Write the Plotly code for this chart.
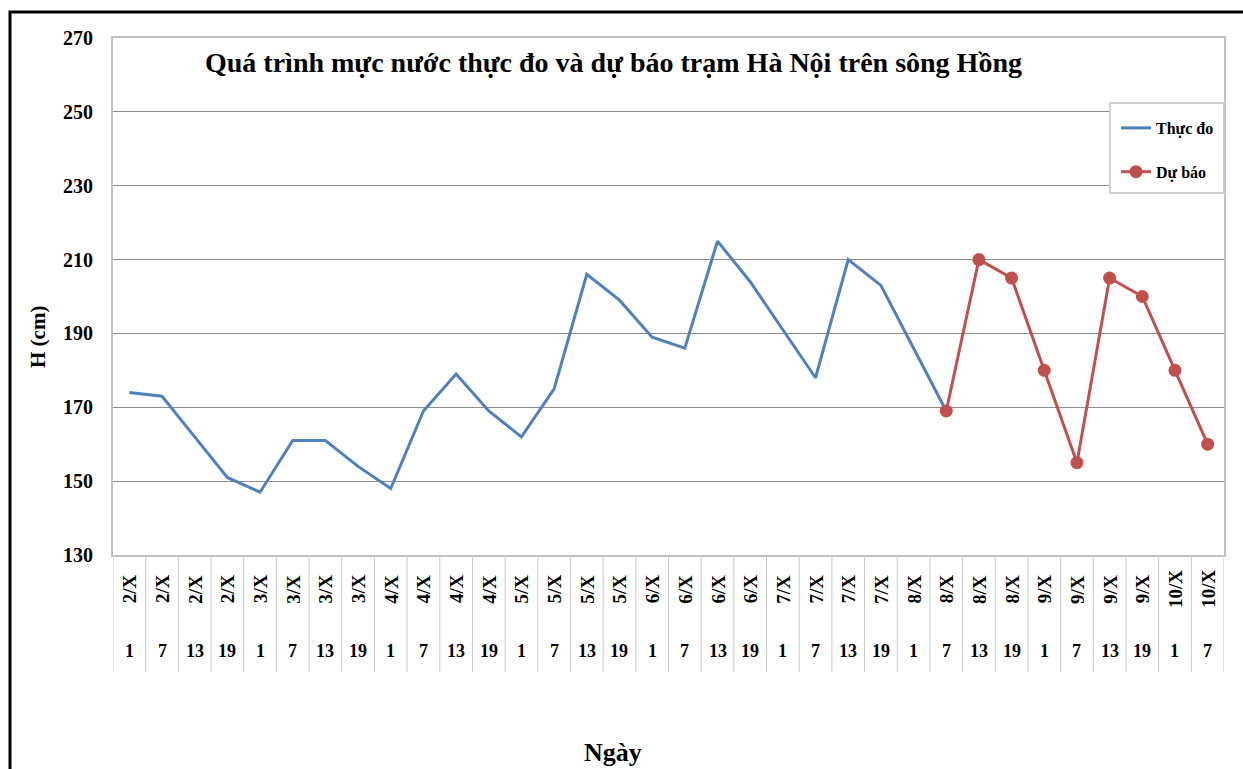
import plotly.graph_objects as go

# ---- data ----
days = ["2/X"] * 4 + ["3/X"] * 4 + ["4/X"] * 4 + ["5/X"] * 4 + ["6/X"] * 4 + ["7/X"] * 4 + ["8/X"] * 4 + ["9/X"] * 4 + ["10/X"] * 2
hours = ["1", "7", "13", "19"] * 8 + ["1", "7"]
categories = [f"{d} {h}" for d, h in zip(days, hours)]

observed = [174, 173, 162, 151, 147, 161, 161, 154, 148, 169, 179, 169, 162, 175, 206, 199,
            189, 186, 215, 204, 191, 178, 210, 203, 186, 169]
forecast_cats = categories[25:]
forecast = [169, 210, 205, 180, 155, 205, 200, 180, 160]

y_ticks = [130, 150, 170, 190, 210, 230, 250, 270]

title_text = "Quá trình mực nước thực đo và dự báo trạm Hà Nội trên sông Hồng"

# ---- geometry (pixels) ----
W, H = 1243, 769
L, R, T, B = 113, 1224, 38, 555
pw, ph = R - L, B - T


def px(x):
    return (x - L) / pw


def py(y):
    return (B - y) / ph


SERIF = "Liberation Serif, Times New Roman, serif"

fig = go.Figure()
fig.add_trace(go.Scatter(
    x=categories[:len(observed)], y=observed, mode="lines", name="Thực đo",
    line=dict(color="#4f81bd", width=3), legendgroup="a"))
fig.add_trace(go.Scatter(
    x=forecast_cats, y=forecast, mode="lines+markers", name="Dự báo",
    line=dict(color="#c0504d", width=3), marker=dict(size=13, color="#c0504d"),
    legendgroup="b"))

shapes = []
# category separators below plot
for i in range(len(categories) + 1):
    shapes.append(dict(type="line", xref="x", yref="paper", x0=i - 0.5, x1=i - 0.5,
                       y0=0, y1=py(672), line=dict(color="#c8c8c8", width=1)))
# outer black frame
shapes.append(dict(type="rect", xref="paper", yref="paper", x0=px(10), x1=px(1260),
                   y0=py(800), y1=py(12), line=dict(color="black", width=3)))
# legend box
shapes.append(dict(type="rect", xref="paper", yref="paper", x0=px(1110), x1=px(1224),
                   y0=py(193), y1=py(103), line=dict(color="#d0d0d0", width=2),
                   fillcolor="white", layer="above"))

annotations = []
for i, (d, h) in enumerate(zip(days, hours)):
    annotations.append(dict(x=categories[i], y=py(589), xref="x", yref="paper", text=d,
                            showarrow=False, textangle=-90, xanchor="center", yanchor="middle",
                            font=dict(family=SERIF, size=19, color="black", weight="bold")))
    annotations.append(dict(x=categories[i], y=py(651), xref="x", yref="paper", text=h,
                            showarrow=False, xanchor="center", yanchor="middle",
                            font=dict(family=SERIF, size=18, color="black", weight="bold")))
annotations.append(dict(x=px(613), y=py(62), xref="paper", yref="paper", text=title_text,
                        showarrow=False, xanchor="center", yanchor="middle",
                        font=dict(family=SERIF, size=28, color="black", weight="bold")))
annotations.append(dict(x=px(38), y=py(337), xref="paper", yref="paper", text="H (cm)",
                        showarrow=False, textangle=-90, xanchor="center", yanchor="middle",
                        font=dict(family=SERIF, size=21, color="black", weight="bold")))
annotations.append(dict(x=px(613), y=py(752), xref="paper", yref="paper", text="Ngày",
                        showarrow=False, xanchor="center", yanchor="middle",
                        font=dict(family=SERIF, size=26, color="black", weight="bold")))

fig.update_layout(
    width=W, height=H,
    margin=dict(l=L, r=W - R, t=T, b=H - B, pad=0),
    paper_bgcolor="white", plot_bgcolor="white",
    showlegend=True,
    legend=dict(x=px(1116), y=py(111), xanchor="left", yanchor="top",
                bgcolor="rgba(0,0,0,0)", borderwidth=0, tracegroupgap=20,
                font=dict(family=SERIF, size=16, color="black", weight="bold")),
    shapes=shapes, annotations=annotations,
    xaxis=dict(type="category", categoryorder="array", categoryarray=categories,
               range=[-0.5, len(categories) - 0.5], showticklabels=False,
               showgrid=False, zeroline=False, ticks="",
               showline=True, mirror=True, linecolor="#c0c0c0", linewidth=2),
    yaxis=dict(range=[130, 270], tickvals=y_ticks, showgrid=True, gridcolor="#8c8c8c",
               gridwidth=1, zeroline=False, ticks="", ticklabelstandoff=14,
               showline=True, mirror=True, linecolor="#c0c0c0", linewidth=2,
               tickfont=dict(family=SERIF, size=20, color="black", weight="bold")),
)

fig.write_html("out.html", config={"displayModeBar": False},
               post_script="document.body.style.margin='0';document.body.style.overflow='hidden';")
